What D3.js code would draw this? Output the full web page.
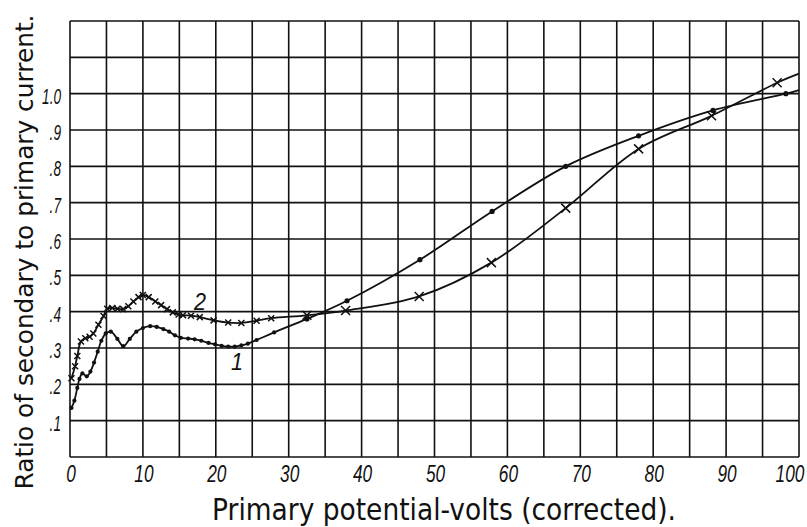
<!DOCTYPE html>
<html>
<head>
<meta charset="utf-8">
<script src="https://cdn.jsdelivr.net/npm/d3@7"></script>
<style>
  body { margin: 0; background: #fff; }
  svg { display: block; }
</style>
</head>
<body>
<script>
// curve 1 (dots): primary volts, ratio
var volts1 = [0.2, 0.6, 1.0, 1.3, 1.7, 2.3, 2.8, 3.3, 3.8, 4.3, 4.9, 5.6, 6.5, 7.3, 8.2, 9.1, 10, 11, 11.9, 12.8,
              13.6, 14.4, 15.2, 16.2, 17.1, 18, 19, 19.9, 20.8, 21.7, 22.6, 23.5, 24.4, 25.6, 28, 32.5, 38, 48,
              57.9, 68, 78, 88.2, 98.2];
var ratio1 = [0.135, 0.155, 0.19, 0.215, 0.23, 0.222, 0.235, 0.26, 0.29, 0.32, 0.34, 0.345, 0.325, 0.305, 0.325,
              0.345, 0.355, 0.36, 0.358, 0.352, 0.345, 0.335, 0.328, 0.326, 0.324, 0.32, 0.314, 0.31, 0.306, 0.304,
              0.304, 0.307, 0.312, 0.322, 0.343, 0.38, 0.43, 0.543, 0.676, 0.80, 0.884, 0.954, 1.0];
var tail1 = [100, 1.01];

// curve 2 (crosses)
var volts2 = [0.2, 0.7, 1.0, 1.5, 2.1, 2.7, 3.2, 3.9, 4.6, 5.1, 5.8, 6.5, 7.3, 8.0, 8.7, 9.4, 10, 10.8, 11.7, 12.5,
              13.3, 14.1, 14.9, 15.5, 16.6, 17.8, 19.7, 21.7, 23.5, 25.6, 27.6, 32.5, 37.8, 47.9, 57.8, 68, 78, 88, 97];
var ratio2 = [0.217, 0.25, 0.278, 0.318, 0.327, 0.331, 0.34, 0.364, 0.388, 0.408, 0.41, 0.408, 0.407, 0.415, 0.428,
              0.44, 0.446, 0.44, 0.428, 0.418, 0.407, 0.398, 0.392, 0.39, 0.389, 0.385, 0.376, 0.37, 0.369, 0.375,
              0.382, 0.39, 0.403, 0.442, 0.535, 0.685, 0.848, 0.939, 1.03];
var tail2 = [100, 1.055];

var xTicks = [0, 10, 20, 30, 40, 50, 60, 70, 80, 90, 100];
var yTicks = [0.1, 0.2, 0.3, 0.4, 0.5, 0.6, 0.7, 0.8, 0.9, 1.0];
var yTickLabels = [".1", ".2", ".3", ".4", ".5", ".6", ".7", ".8", ".9", "1.0"];

var w = 807, h = 527;
var mLeft = 70, mRight = 799, mTop = 21, mBottom = 457;

var svg = d3.select("body").append("svg")
    .attr("width", w)
    .attr("height", h);

var x = d3.scaleLinear().domain([0, 100]).range([mLeft, mRight]);
var y = d3.scaleLinear().domain([0, 1.2]).range([mBottom, mTop]);

var font = "'DejaVu Sans', sans-serif";
var tickFont = "'Liberation Sans', Arial, sans-serif";

// grid: every 5 volts, every 0.1 ratio
svg.append("g").selectAll("line")
    .data(d3.range(0, 101, 5))
    .enter().append("line")
    .attr("x1", function(d) { return x(d); })
    .attr("x2", function(d) { return x(d); })
    .attr("y1", y(0))
    .attr("y2", y(1.2))
    .attr("stroke", "#111")
    .attr("stroke-width", 1.6);

svg.append("g").selectAll("line")
    .data(d3.range(0, 13).map(function(i) { return i / 10; }))
    .enter().append("line")
    .attr("x1", x(0))
    .attr("x2", x(100))
    .attr("y1", function(d) { return y(d); })
    .attr("y2", function(d) { return y(d); })
    .attr("stroke", "#111")
    .attr("stroke-width", 1.6);

// tick labels: narrow hand lettering, squeezed sideways
svg.append("g").selectAll("text")
    .data(xTicks)
    .enter().append("text")
    .attr("transform", function(d) {
        var tx = d == 100 ? x(d) - 9 : x(d) + 1;
        return "translate(" + tx + ",482) scale(0.72,1)";
    })
    .attr("text-anchor", "middle")
    .attr("font-family", tickFont)
    .attr("font-style", "italic")
    .attr("font-size", "24px")
    .attr("fill", "#111")
    .text(function(d) { return d; });

svg.append("g").selectAll("text")
    .data(yTicks)
    .enter().append("text")
    .attr("transform", function(d) {
        return "translate(" + (mLeft - 9) + "," + (y(d) + 10) + ") scale(0.62,1)";
    })
    .attr("text-anchor", "end")
    .attr("font-family", tickFont)
    .attr("font-style", "italic")
    .attr("font-size", "22px")
    .attr("fill", "#111")
    .text(function(d, i) { return yTickLabels[i]; });

// axis titles
svg.append("text")
    .attr("x", 444)
    .attr("y", 520)
    .attr("text-anchor", "middle")
    .attr("font-family", font)
    .attr("font-size", "30px")
    .attr("fill", "#111")
    .attr("textLength", 464)
    .attr("lengthAdjust", "spacingAndGlyphs")
    .text("Primary potential-volts (corrected).");

svg.append("text")
    .attr("transform", "translate(33,252) rotate(-90)")
    .attr("text-anchor", "middle")
    .attr("font-family", font)
    .attr("font-size", "25px")
    .attr("fill", "#111")
    .attr("textLength", 475)
    .attr("lengthAdjust", "spacingAndGlyphs")
    .text("Ratio of secondary to primary current.");

// curves
var line = d3.line()
    .x(function(d) { return x(d[0]); })
    .y(function(d) { return y(d[1]); })
    .curve(d3.curveCatmullRom.alpha(0.5));

var pts1 = volts1.map(function(v, i) { return [v, ratio1[i]]; });
var pts2 = volts2.map(function(v, i) { return [v, ratio2[i]]; });

svg.append("path")
    .attr("d", line(pts1.concat([tail1])))
    .attr("fill", "none")
    .attr("stroke", "#111")
    .attr("stroke-width", 1.8);

svg.append("path")
    .attr("d", line(pts2.concat([tail2])))
    .attr("fill", "none")
    .attr("stroke", "#111")
    .attr("stroke-width", 1.8);

svg.append("g").selectAll("circle")
    .data(pts1)
    .enter().append("circle")
    .attr("cx", function(d) { return x(d[0]); })
    .attr("cy", function(d) { return y(d[1]); })
    .attr("r", function(d) { return d[0] > 30 ? 2.6 : 2.1; })
    .attr("fill", "#111");

svg.append("g").selectAll("path")
    .data(pts2)
    .enter().append("path")
    .attr("d", function(d) {
        var s = d[0] > 30 ? 4.5 : 3;
        var cx = x(d[0]), cy = y(d[1]);
        return "M" + (cx - s) + "," + (cy - s) + "L" + (cx + s) + "," + (cy + s) +
               "M" + (cx - s) + "," + (cy + s) + "L" + (cx + s) + "," + (cy - s);
    })
    .attr("stroke", "#111")
    .attr("stroke-width", 1.5)
    .attr("fill", "none");

// curve labels
svg.append("text")
    .attr("transform", "translate(200,310) scale(0.9,1)")
    .attr("text-anchor", "middle")
    .attr("font-family", tickFont)
    .attr("font-style", "italic")
    .attr("font-size", "24px")
    .attr("fill", "#111")
    .text("2");

svg.append("text")
    .attr("transform", "translate(237,370) scale(0.9,1)")
    .attr("text-anchor", "middle")
    .attr("font-family", tickFont)
    .attr("font-style", "italic")
    .attr("font-size", "24px")
    .attr("fill", "#111")
    .text("1");
</script>
</body>
</html>
